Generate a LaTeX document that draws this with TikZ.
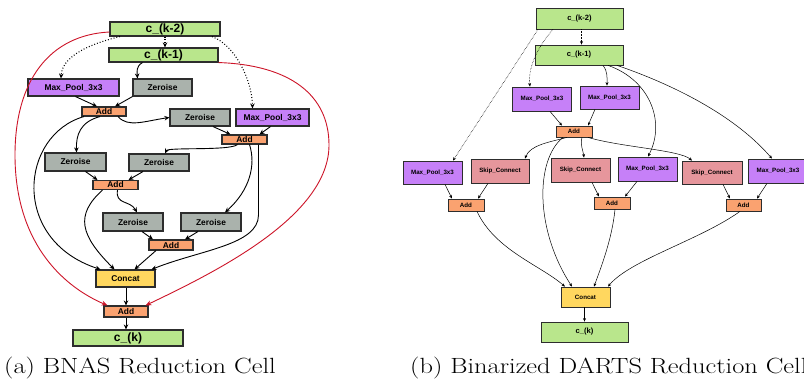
\documentclass[tikz,border=0pt]{standalone}
\usepackage{fontspec}
\usepackage{graphicx}
\setsansfont{Liberation Sans}
\usetikzlibrary{arrows.meta}
\definecolor{cgreen}{RGB}{185,230,140}
\definecolor{cpurple}{RGB}{198,128,248}
\definecolor{cgray}{RGB}{170,178,172}
\definecolor{corange}{RGB}{250,162,112}
\definecolor{cyellow}{RGB}{255,215,95}
\definecolor{cpink}{RGB}{230,150,156}
\definecolor{cred}{RGB}{205,20,40}
\definecolor{cborder}{RGB}{45,45,45}
\tikzset{
  lbox/.style={draw=cborder, line width=1.1pt, inner sep=0pt,
    font=\sffamily\bfseries\fontsize{8.4}{10}\selectfont},
  lbig/.style={lbox, font=\sffamily\bfseries\fontsize{12}{14}\selectfont},
  rbox/.style={draw=cborder, line width=0.8pt, inner sep=0pt,
    font=\sffamily\bfseries\fontsize{6.2}{7.5}\selectfont},
  rbig/.style={rbox, font=\sffamily\bfseries\fontsize{7.6}{9}\selectfont},
  larr/.style={draw=black, line width=0.9pt, -{Stealth[length=5pt,width=4.5pt]}},
  ldot/.style={larr, dotted, line width=1.1pt},
  lred/.style={draw=cred, line width=0.9pt, -{Stealth[length=6pt,width=5pt]}},
  rarr/.style={draw=black, line width=0.5pt, -{Stealth[length=3.5pt,width=3pt]}},
  rdot/.style={rarr, densely dotted, line width=0.6pt},
  capt/.style={font=\fontsize{22}{26}\selectfont, anchor=base west, inner sep=0pt}
}
\begin{document}
\begin{tikzpicture}[x=1pt,y=-1pt]
\clip (0,0) rectangle (804,379);
\fill[white] (0,0) rectangle (804,379);

% ---------------- left: BNAS reduction cell ----------------
\node[lbig, fill=cgreen, minimum width=110pt, minimum height=14pt] (Lk2) at (165,29) {c\_(k-2)};
\node[lbig, fill=cgreen, minimum width=109pt, minimum height=14pt] (Lk1) at (163.5,55) {c\_(k-1)};
\node[lbox, fill=cpurple, minimum width=91pt, minimum height=17pt] (LmpA) at (73.5,87.5) {Max\_Pool\_3x3};
\node[lbox, fill=cgray, minimum width=59pt, minimum height=17pt] (LzA) at (162.5,87.5) {Zeroise};
\node[lbox, fill=corange, minimum width=44pt, minimum height=9pt] (LaddA) at (104,111.5) {Add};
\node[lbox, fill=cgray, minimum width=60pt, minimum height=17pt] (LzB) at (200,117.5) {Zeroise};
\node[lbox, fill=cpurple, minimum width=73pt, minimum height=17pt] (LmpB) at (272.5,117.5) {Max\_Pool\_3x3};
\node[lbox, fill=corange, minimum width=45pt, minimum height=9pt] (LaddB) at (244.5,139.5) {Add};
\node[lbox, fill=cgray, minimum width=61pt, minimum height=18pt] (LzC) at (75.5,162) {Zeroise};
\node[lbox, fill=cgray, minimum width=60pt, minimum height=17pt] (LzD) at (159,162.5) {Zeroise};
\node[lbox, fill=corange, minimum width=45pt, minimum height=9pt] (LaddC) at (115.5,185) {Add};
\node[lbox, fill=cgray, minimum width=60pt, minimum height=18pt] (LzE) at (133,222) {Zeroise};
\node[lbox, fill=cgray, minimum width=60pt, minimum height=18pt] (LzF) at (211,222) {Zeroise};
\node[lbox, fill=corange, minimum width=44pt, minimum height=10pt] (LaddD) at (171,245) {Add};
\node[lbox, fill=cyellow, minimum width=59pt, minimum height=17pt] (Lconcat) at (125.5,278.5) {Concat};
\node[lbox, fill=corange, minimum width=44pt, minimum height=11pt] (LaddE) at (126,311.5) {Add};
\node[lbig, fill=cgreen, minimum width=110pt, minimum height=16pt] (Lk) at (128,338) {c\_(k)};

\draw[ldot] (Lk2.south) -- (Lk2.south |- Lk1.north);
\draw[ldot] ([xshift=-45pt]Lk2.south) .. controls (85,45) and (62,58) .. ([xshift=-12.5pt]LmpA.north);
\draw[ldot] ([xshift=47pt]Lk2.south) .. controls (235,45) and (252,80) .. ([xshift=-20pt]LmpB.north);
\draw[larr] ([xshift=-21pt]Lk1.south) .. controls (136,66) and (137,72) .. ([xshift=-25pt]LzA.north);
\draw[larr] ([xshift=2pt]LmpA.south) -- ([xshift=-7pt]LaddA.north);
\draw[larr] ([xshift=-30pt]LzA.south) -- ([xshift=11pt]LaddA.north);
\draw[larr] ([xshift=14pt]LaddA.south) .. controls (128,128) and (145,121) .. (LzB.west);
\draw[larr] ([xshift=-4pt]LaddA.south) .. controls (80,122) and (76,135) .. ([xshift=1pt]LzC.north);
\draw[larr] ([xshift=-20pt]LaddA.south) .. controls (20,135) and (10,240) .. ([xshift=-25pt]Lconcat.north);
\draw[larr] ([xshift=13pt]LzB.south) -- ([xshift=-14pt]LaddB.north);
\draw[larr] ([xshift=-2pt]LmpB.south) -- ([xshift=15pt]LaddB.north);
\draw[larr] ([xshift=-7pt]LaddB.south) .. controls (230,151) and (168,147) .. ([xshift=6pt]LzD.north);
\draw[larr] ([xshift=5pt]LaddB.south) .. controls (256,165) and (250,190) .. ([xshift=14pt]LzF.north);
\draw[larr] ([xshift=14pt]LaddB.south) -- (258.5,215) .. controls (258.5,245) and (200,250) .. ([xshift=26pt]Lconcat.north);
\draw[larr] ([xshift=10pt]LzC.south) -- ([xshift=-18pt]LaddC.north);
\draw[larr] ([xshift=-16pt]LzD.south) -- ([xshift=13pt]LaddC.north);
\draw[larr] ([xshift=2pt]LaddC.south) .. controls (115,205) and (130,200) .. ([xshift=4pt]LzE.north);
\draw[larr] ([xshift=-13pt]LaddC.south) .. controls (75,215) and (80,235) .. ([xshift=-11pt]Lconcat.north);
\draw[larr] ([xshift=9pt]LzE.south) -- ([xshift=-18pt]LaddD.north);
\draw[larr] ([xshift=-13pt]LzF.south) -- ([xshift=14pt]LaddD.north);
\draw[larr] ([xshift=-15pt]LaddD.south) -- ([xshift=9pt]Lconcat.north);
\draw[larr] ([xshift=0.5pt]Lconcat.south) -- (LaddE.north);
\draw[larr] (LaddE.south) -- (LaddE.south |- Lk.north);
\draw[lred] ([yshift=-3pt]Lk2.west) .. controls (50,35) and (15,80) .. (15,155)
  .. controls (15,240) and (60,285) .. ([xshift=4pt]LaddE.north west);
\draw[lred] (Lk1.south east) .. controls (290,65) and (329,95) .. (329,145)
  .. controls (329,215) and (220,270) .. ([xshift=-3pt]LaddE.north east);

% ---------------- right: Binarized DARTS reduction cell ----------------
\node[rbig, fill=cgreen, minimum width=87pt, minimum height=21pt] (Rk2) at (579.5,18.5) {c\_(k-2)};
\node[rbig, fill=cgreen, minimum width=88pt, minimum height=20pt] (Rk1) at (579,55) {c\_(k-1)};
\node[rbox, fill=cpurple, minimum width=59pt, minimum height=24pt] (RmpA) at (542,99) {Max\_Pool\_3x3};
\node[rbox, fill=cpurple, minimum width=59pt, minimum height=23pt] (RmpB) at (609.5,97.5) {Max\_Pool\_3x3};
\node[rbox, fill=corange, minimum width=36pt, minimum height=11pt] (Radd) at (574,131.5) {Add};
\node[rbox, fill=cpurple, minimum width=59pt, minimum height=23pt] (RmpC) at (432.5,172.5) {Max\_Pool\_3x3};
\node[rbox, fill=cpink, minimum width=58pt, minimum height=24pt] (RskA) at (500,171) {Skip\_Connect};
\node[rbox, fill=cpink, minimum width=59pt, minimum height=24pt] (RskB) at (580.5,170) {Skip\_Connect};
\node[rbox, fill=cpurple, minimum width=59pt, minimum height=24pt] (RmpD) at (647.5,169) {Max\_Pool\_3x3};
\node[rbox, fill=cpink, minimum width=60pt, minimum height=23pt] (RskC) at (712,172.5) {Skip\_Connect};
\node[rbox, fill=cpurple, minimum width=59pt, minimum height=24pt] (RmpE) at (778,171) {Max\_Pool\_3x3};
\node[rbox, fill=corange, minimum width=36pt, minimum height=12pt] (RaddL) at (466,205) {Add};
\node[rbox, fill=corange, minimum width=36pt, minimum height=12pt] (RaddM) at (612,203) {Add};
\node[rbox, fill=corange, minimum width=35pt, minimum height=12pt] (RaddR) at (743.5,205) {Add};
\node[rbox, fill=cyellow, minimum width=49pt, minimum height=20pt] (Rconcat) at (585.5,297) {Concat};
\node[rbig, fill=cgreen, minimum width=87pt, minimum height=20pt] (Rk) at (584.5,332) {c\_(k)};

\draw[rdot] ([xshift=2pt]Rk2.south) -- ([xshift=2.5pt]Rk1.north);
\draw[rdot] ([xshift=-26.5pt]Rk2.south) .. controls (535,50) and (528,70) .. ([xshift=-12pt]RmpA.north);
\draw[rdot] ([xshift=-41.5pt]Rk2.south) -- ([xshift=20.5pt]RmpC.north);
\draw[rarr] ([xshift=24pt]Rk1.south) .. controls (608,72) and (607,78) .. ([xshift=-2.5pt]RmpB.north);
\draw[rarr] ([xshift=29pt]Rk1.south) .. controls (650,80) and (666,122) .. ([xshift=0.5pt]RmpD.north);
\draw[rarr] ([xshift=38pt]Rk1.south) .. controls (660,80) and (730,110) .. ([xshift=-6pt]RmpE.north);
\draw[rarr] ([xshift=8pt]RmpA.south) -- ([xshift=-12pt]Radd.north);
\draw[rarr] ([xshift=-14.5pt]RmpB.south) -- ([xshift=14pt]Radd.north);
\draw[rarr] ([xshift=-7pt]Radd.south) .. controls (550,142) and (530,145) .. ([xshift=25pt]RskA.north);
\draw[rarr] ([xshift=-11pt]Radd.south) .. controls (535,160) and (535,230) .. ([xshift=-13.5pt]Rconcat.north);
\draw[rarr] ([xshift=8pt]Radd.south) .. controls (580,145) and (583,150) .. ([xshift=3.5pt]RskB.north);
\draw[rarr] ([xshift=14pt]Radd.south) .. controls (620,147) and (680,150) .. ([xshift=-20pt]RskC.north);
\draw[rarr] ([xshift=12.5pt]RmpC.south) -- ([xshift=-14pt]RaddL.north);
\draw[rarr] ([xshift=-12pt]RskA.south) -- ([xshift=12pt]RaddL.north);
\draw[rarr] ([xshift=11.5pt]RskB.south) -- ([xshift=-13pt]RaddM.north);
\draw[rarr] ([xshift=-10.5pt]RmpD.south) -- ([xshift=13pt]RaddM.north);
\draw[rarr] ([xshift=11pt]RskC.south) -- ([xshift=-13.5pt]RaddR.north);
\draw[rarr] ([xshift=-11pt]RmpE.south) -- ([xshift=13.5pt]RaddR.north);
\draw[rarr] ([xshift=11pt]RaddL.south) .. controls (495,250) and (540,265) .. ([xshift=-20.5pt]Rconcat.north);
\draw[rarr] ([xshift=3pt]RaddM.south) .. controls (612,240) and (600,270) .. ([xshift=8.5pt]Rconcat.north);
\draw[rarr] ([xshift=-3.5pt]RaddR.south) .. controls (700,240) and (630,260) .. ([xshift=22.5pt]Rconcat.north);
\draw[rarr] ([xshift=-1pt]Rconcat.south) -- ([xshift=-1pt]Rconcat.south |- Rk.north);

% captions
\node[capt] (capA) at (4,374) {\scalebox{1.2}[1]{(a) BNAS Reduction Cell}};
\node[capt] (capB) at (410,374) {\scalebox{1.2}[1]{(b) Binarized DARTS Reduction Cell}};
\end{tikzpicture}
\end{document}
